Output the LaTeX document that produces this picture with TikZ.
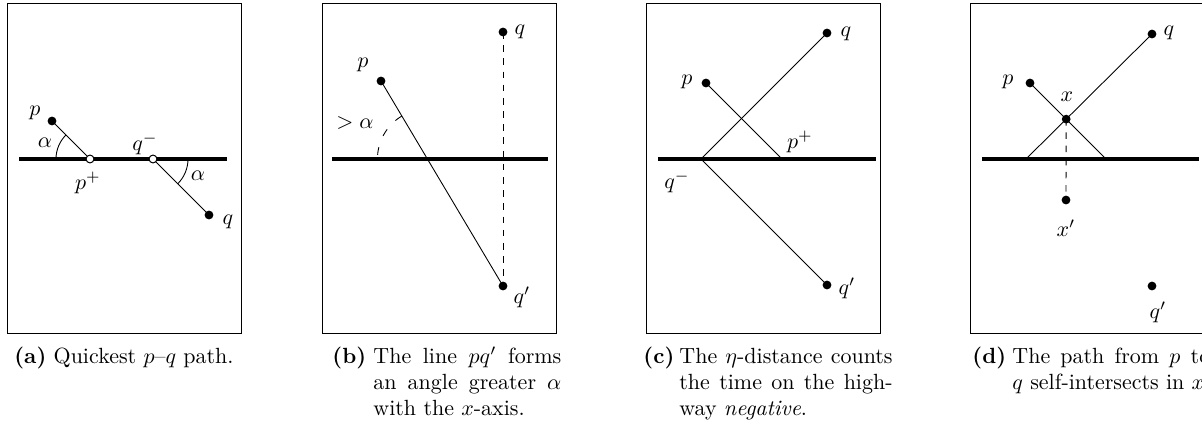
\documentclass[tikz,border=0pt]{standalone}
\begin{document}
\begin{tikzpicture}[x=0.455pt, y=0.455pt,
  panel/.style={line width=0.45pt},
  highway/.style={line width=1.8pt},
  route/.style={line width=0.4pt},
  mirror/.style={line width=0.4pt, dashed},
  anglemark/.style={line width=0.4pt},
  gate/.style={fill=white, line width=0.45pt},
  capnum/.style={anchor=base west, inner sep=0pt, font=\bfseries},
  captext/.style={anchor=base west, inner sep=0pt, align=justify}]
  \useasboundingbox (0,0) rectangle (1202,423);

  % --- (a) quickest path ---
  \begin{scope}[shift={(7,90)}]
    \draw[panel] (0,0) rectangle (234,330);
    \coordinate (hl) at (12,174);
    \coordinate (hr) at (220,174);
    \coordinate (p) at (45,212);
    \coordinate (pplus) at (83,174);
    \coordinate (qminus) at (146,174);
    \coordinate (q) at (202,118);
    \draw[highway] (hl) -- (hr);
    \draw[route] (p) -- (pplus);
    \draw[route] (qminus) -- (q);
    % angle alpha on both sides
    \draw[anglemark] (pplus) ++(135:34) arc (135:180:34);
    \draw[anglemark] (qminus) ++(0:35) arc (0:-45:35);
    \filldraw[gate] (pplus) circle (1.8pt);
    \filldraw[gate] (qminus) circle (1.8pt);
    \fill (p) circle (2pt);
    \fill (q) circle (2pt);
    \node (lp) at (28,220) {$p$};
    \node (la1) at (38,190) {$\alpha$};
    \node (lpplus) at (81,150) {$p^+$};
    \node (lqminus) at (138,189) {$q^-$};
    \node (la2) at (191,157) {$\alpha$};
    \node (lq) at (221,111) {$q$};
    \node[anchor=base] (capa) at (117,-30) {\textbf{(a)} Quickest $p$--$q$ path.};
  \end{scope}

  % --- (b) mirrored endpoint ---
  \begin{scope}[shift={(322,90)}]
    \draw[panel] (0,0) rectangle (234,330);
    \coordinate (hl) at (10,174);
    \coordinate (hr) at (226,174);
    \coordinate (p) at (59,252);
    \coordinate (q) at (181,301);
    \coordinate (qp) at (181,47);
    \coordinate (s) at (intersection of p--qp and hl--hr);
    \draw[highway] (hl) -- (hr);
    \draw[mirror] (q) -- (qp);
    \draw[route] (p) -- (qp);
    \draw[anglemark, dash pattern=on 3.5pt off 5.5pt] (s) ++(121:50) arc (121:180:50);
    \fill (p) circle (2pt);
    \fill (q) circle (2pt);
    \fill (qp) circle (2pt);
    \node (lp) at (41,268) {$p$};
    \node (lq) at (198,301) {$q$};
    \node (lqp) at (200,36) {$q'$};
    \node (lgt) at (33,210) {$>\alpha$};
    \node[capnum] (capb) at (10,-30) {(b)};
    \node[captext, text width=85.5pt] (capbtext) at (51,-30)
      {The line $pq'$ forms\linebreak an angle greater $\alpha$\linebreak with the $x$-axis.};
  \end{scope}

  % --- (c) negative time on the highway ---
  \begin{scope}[shift={(646,90)}]
    \draw[panel] (0,0) rectangle (234,330);
    \coordinate (hl) at (12,174);
    \coordinate (hr) at (230,174);
    \coordinate (p) at (60,250);
    \coordinate (pplus) at (136,174);
    \coordinate (qminus) at (55,174);
    \coordinate (q) at (181,300);
    \coordinate (qp) at (181,48);
    \draw[highway] (hl) -- (hr);
    \draw[route] (p) -- (pplus);
    \draw[route] (q) -- (qminus) -- (qp);
    \fill (p) circle (2pt);
    \fill (q) circle (2pt);
    \fill (qp) circle (2pt);
    \node (lp) at (41,251) {$p$};
    \node (lq) at (200,299) {$q$};
    \node (lqp) at (201,45) {$q'$};
    \node (lpplus) at (154,191) {$p^+$};
    \node (lqminus) at (31,151) {$q^-$};
    \node[capnum] (capc) at (-3,-30) {(c)};
    \node[captext, text width=97pt] (capctext) at (33,-30)
      {The $\eta$-distance counts\linebreak the time on the high-\linebreak way \emph{negative}.};
  \end{scope}

  % --- (d) self-intersecting path ---
  \begin{scope}[shift={(970,90)}]
    \draw[panel] (0,0) rectangle (234,330);
    \coordinate (hl) at (12,174);
    \coordinate (hr) at (229,174);
    \coordinate (p) at (60,250);
    \coordinate (pplus) at (136,174);
    \coordinate (qminus) at (56,174);
    \coordinate (q) at (182,299);
    \coordinate (x) at (intersection of p--pplus and qminus--q);
    \coordinate (xp) at (96,133);
    \coordinate (qp) at (182,47);
    \draw[highway] (hl) -- (hr);
    \draw[route] (p) -- (pplus);
    \draw[route] (qminus) -- (q);
    \draw[mirror] (x) -- (xp);
    \fill (p) circle (2pt);
    \fill (x) circle (2pt);
    \fill (q) circle (2pt);
    \fill (xp) circle (2pt);
    \fill (qp) circle (2pt);
    \node (lp) at (38,251) {$p$};
    \node (lx) at (97,236) {$x$};
    \node (lxp) at (96,105) {$x'$};
    \node (lq) at (199,300) {$q$};
    \node (lqp) at (188,21) {$q'$};
    \node[capnum] (capd) at (2,-30) {(d)};
    \node[captext, text width=90pt] (capdtext) at (42,-30)
      {The path from $p$ to\linebreak $q$ self-intersects in $x$.};
  \end{scope}
\end{tikzpicture}
\end{document}
